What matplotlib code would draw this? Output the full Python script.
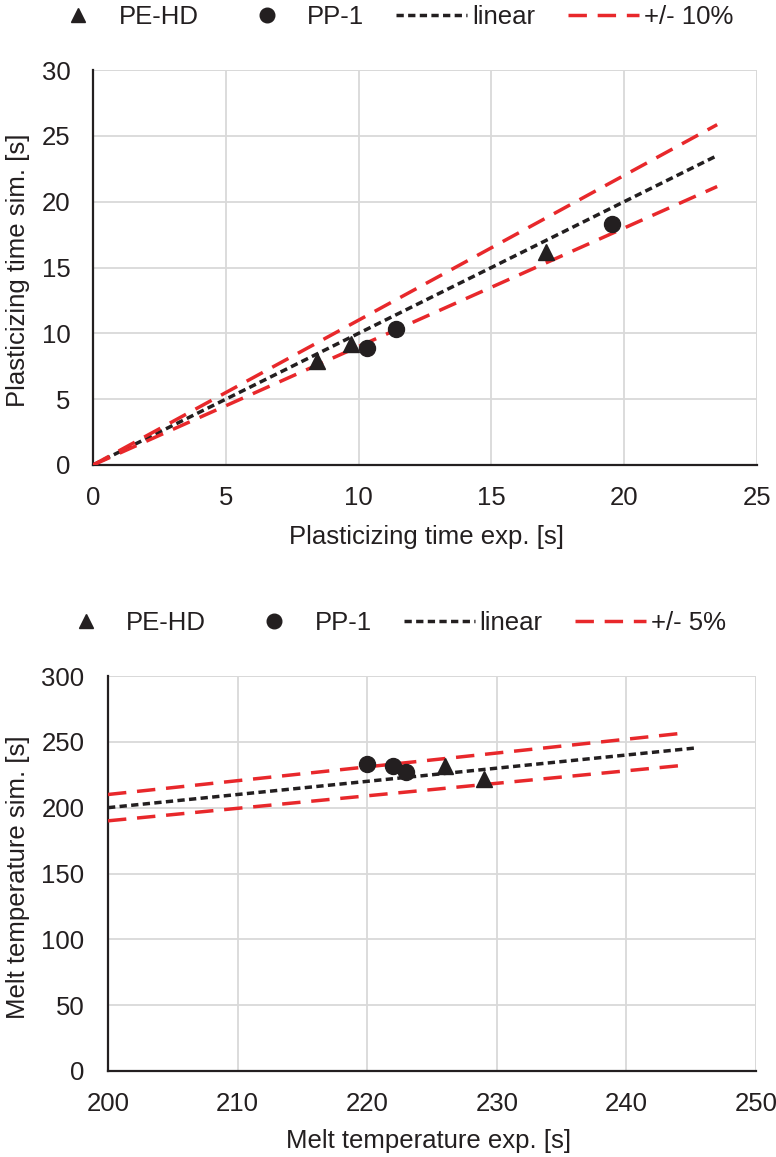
import matplotlib
matplotlib.use("Agg")
import matplotlib.pyplot as plt
from matplotlib.lines import Line2D
import numpy as np

plt.rcParams['font.family'] = ['Liberation Sans', 'DejaVu Sans']

# Plasticizing time [s]: experiment vs simulation
pt_pehd_exp = [8.43, 9.70, 17.04]
pt_pehd_sim = [7.93, 9.19, 16.16]
pt_pp_exp = [10.33, 11.42, 19.55]
pt_pp_sim = [8.89, 10.35, 18.31]
pt_line_x = [0.0, 23.5]
pt_band = 0.10

# Melt temperature: experiment vs simulation
mt_pehd_exp = [226.0, 229.0]
mt_pehd_sim = [232.0, 221.8]
mt_pp_exp = [220.0, 222.0, 223.0]
mt_pp_sim = [233.3, 231.6, 227.3]
mt_line_x = [200.0, 245.3]
mt_band_x = [200.0, 244.5]
mt_band = 0.05

BLACK = '#231F20'
RED = '#E8282B'
GRID = '#D9D9D9'
FS = 18.5
LW = 2.5
DASH_LIN = (2.1, 1.25)
DASH_BAND = (5.3, 3.1)

W, H = 776, 1157
fig = plt.figure(figsize=(W / 100, H / 100), dpi=100)


def px_axes(left, top, right, bottom):
    return fig.add_axes([left / W, 1 - bottom / H, (right - left) / W, (bottom - top) / H])


def style(ax, xlim, ylim, xticks, yticks, ypad):
    ax.set_xlim(*xlim)
    ax.set_ylim(*ylim)
    ax.set_xticks(xticks)
    ax.set_yticks(yticks)
    ax.grid(True, color=GRID, lw=1.3)
    ax.set_axisbelow(True)
    for s in ['top', 'right']:
        ax.spines[s].set_visible(False)
    for s in ['left', 'bottom']:
        ax.spines[s].set_color(BLACK)
        ax.spines[s].set_linewidth(1.6)
        ax.spines[s].set_zorder(1)
    ax.tick_params(length=0, labelsize=FS, colors=BLACK)
    ax.tick_params(axis='x', pad=15)
    ax.tick_params(axis='y', pad=ypad)
    ax.axvline(xticks[-1], color=GRID, lw=1.3, zorder=0)
    ax.axhline(yticks[-1], color=GRID, lw=1.3, zorder=0)


def draw(ax, pe_x, pe_y, pp_x, pp_y, line_x, band_x, band):
    lx = np.array(line_x)
    bx = np.array(band_x)
    ax.plot(lx, lx, color=BLACK, lw=LW, dashes=DASH_LIN, zorder=3)
    ax.plot(bx, bx * (1 + band), color=RED, lw=LW, dashes=DASH_BAND, zorder=3)
    ax.plot(bx, bx * (1 - band), color=RED, lw=LW, dashes=DASH_BAND, zorder=3)
    ax.plot(pe_x, pe_y, ls='none', marker='^', ms=11, color=BLACK, zorder=4)
    ax.plot(pp_x, pp_y, ls='none', marker='o', ms=11.5, color=BLACK, zorder=4)


def legend(cx, cy, band_label):
    handles = [
        Line2D([], [], ls='none', marker='^', ms=10, color=BLACK),
        Line2D([], [], ls='none', marker='o', ms=10.5, color=BLACK),
        Line2D([], [], color=BLACK, lw=LW, dashes=DASH_LIN),
        Line2D([], [], color=RED, lw=LW, dashes=DASH_BAND),
    ]
    labels = ['PE-HD', 'PP-1', 'linear', band_label]
    fig.legend(handles, labels, loc='center', bbox_to_anchor=(cx / W, 1 - cy / H),
               ncol=4, frameon=False, fontsize=FS, handlelength=2.76,
               handletextpad=0.2, columnspacing=1.25, labelcolor=BLACK,
               borderpad=0, borderaxespad=0)


# Plasticizing time panel
ax1 = px_axes(93, 70, 757, 465)
style(ax1, (0, 25), (0, 30), [0, 5, 10, 15, 20, 25], [0, 5, 10, 15, 20, 25, 30], 16)
draw(ax1, pt_pehd_exp, pt_pehd_sim, pt_pp_exp, pt_pp_sim, pt_line_x, pt_line_x, pt_band)
fig.text(426 / W, 1 - 537 / H, 'Plasticizing time exp. [s]', ha='center', va='center',
         fontsize=FS, color=BLACK)
fig.text(18 / W, 1 - 270 / H, 'Plasticizing time sim. [s]', ha='center', va='center',
         rotation=90, fontsize=FS, color=BLACK)
legend(388, 17, '+/- 10%')

# Melt temperature panel
ax2 = px_axes(108, 676, 756, 1071)
style(ax2, (200, 250), (0, 300), [200, 210, 220, 230, 240, 250], [0, 50, 100, 150, 200, 250, 300], 17)
draw(ax2, mt_pehd_exp, mt_pehd_sim, mt_pp_exp, mt_pp_sim, mt_line_x, mt_band_x, mt_band)
fig.text(429 / W, 1 - 1141 / H, 'Melt temperature exp. [s]', ha='center', va='center',
         fontsize=FS, color=BLACK)
fig.text(18 / W, 1 - 877 / H, 'Melt temperature sim. [s]', ha='center', va='center',
         rotation=90, fontsize=FS, color=BLACK)
legend(388, 623, '+/- 5%')

fig.savefig('out.png', dpi=100)
